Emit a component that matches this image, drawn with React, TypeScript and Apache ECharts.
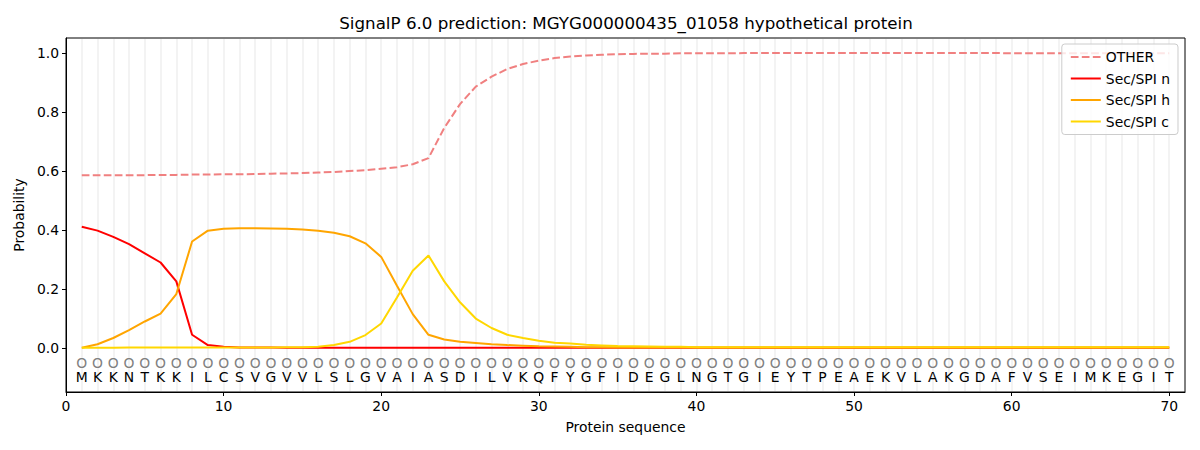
import React, { useEffect, useRef } from "react";
import * as echarts from "echarts";

const titleText = "SignalP 6.0 prediction: MGYG000000435_01058 hypothetical protein";

const sequence = [
  "M","K","K","N","T","K","K","I","L","C",
  "S","V","G","V","V","L","S","L","G","V",
  "A","I","A","S","D","I","L","V","K","Q",
  "F","Y","G","F","I","D","E","G","L","N",
  "G","T","G","I","E","Y","T","P","E","A",
  "E","K","V","L","A","K","G","D","A","F",
  "V","S","E","I","M","K","E","G","I","T",
];

const otherProb = [
  0.585,0.585,0.585,0.585,0.585,0.586,0.586,0.587,0.587,0.588,
  0.588,0.589,0.590,0.591,0.592,0.594,0.596,0.599,0.602,0.607,
  0.612,0.622,0.643,0.745,0.826,0.885,0.919,0.945,0.962,0.973,
  0.982,0.987,0.991,0.993,0.995,0.996,0.997,0.997,0.998,0.998,
  0.998,0.998,0.999,0.999,0.999,0.999,0.999,0.999,0.999,0.999,
  0.999,0.999,0.999,0.999,0.999,0.999,0.999,0.999,0.999,0.998,
  0.998,0.998,0.998,0.998,0.998,0.998,0.998,0.998,0.998,0.998,
];

const secN = [
  0.410,0.397,0.376,0.351,0.320,0.289,0.225,0.044,0.009,0.003,
  0.001,0.001,0.001,0,0,0,0,0,0,0,
  0,0,0,0,0,0,0,0,0,0,
  0,0,0,0,0,0,0,0,0,0,
  0,0,0,0,0,0,0,0,0,0,
  0,0,0,0,0,0,0,0,0,0,
  0,0,0,0,0,0,0,0,0,0,
];

const secH = [
  0.000,0.012,0.033,0.060,0.089,0.116,0.182,0.360,0.397,0.403,
  0.405,0.405,0.404,0.403,0.401,0.397,0.390,0.378,0.354,0.308,
  0.210,0.114,0.044,0.028,0.020,0.016,0.012,0.009,0.007,0.005,
  0.004,0.003,0.002,0.002,0.001,0.001,0.001,0.001,0.001,0.001,
  0.001,0.001,0.001,0.001,0.001,0.001,0.001,0.001,0.001,0.001,
  0.001,0.001,0.001,0.001,0.001,0.001,0.001,0.001,0.001,0.001,
  0.001,0.001,0.001,0.001,0.001,0.001,0.001,0.001,0.001,0.001,
];

const secC = [
  0.000,0.000,0.000,0.001,0.001,0.001,0.001,0.001,0.001,0.001,
  0.001,0.001,0.001,0.002,0.002,0.003,0.009,0.020,0.043,0.082,
  0.170,0.261,0.313,0.225,0.154,0.099,0.067,0.044,0.033,0.024,
  0.017,0.014,0.010,0.008,0.006,0.005,0.004,0.003,0.003,0.002,
  0.002,0.002,0.002,0.002,0.002,0.002,0.002,0.002,0.002,0.002,
  0.002,0.002,0.002,0.002,0.002,0.002,0.002,0.002,0.002,0.002,
  0.002,0.002,0.002,0.002,0.002,0.002,0.002,0.002,0.002,0.002,
];

const xTicks = [0, 10, 20, 30, 40, 50, 60, 70];
const yTicks = [0, 0.2, 0.4, 0.6, 0.8, 1.0];

const FONT = "DejaVu Sans";

export default function App() {
  const ref = useRef<HTMLDivElement>(null);

  useEffect(() => {
    if (!ref.current) return;
    const chart = echarts.init(ref.current, null, { renderer: "svg" });
    const positions = sequence.map((_, i) => i + 1);
    const pair = (arr: number[]) => arr.map((v, i) => [positions[i], v]);

    const textSeries = (name: string, yVal: number, texts: string[], color: string) => ({
      name,
      type: "custom",
      silent: true,
      z: 3,
      data: texts.map((t, i) => [positions[i], yVal, t]),
      renderItem: (params: any, api: any) => {
        const p = api.coord([api.value(0), api.value(1)]);
        return {
          type: "text",
          x: p[0],
          y: p[1],
          style: {
            text: texts[params.dataIndex],
            textAlign: "center",
            textVerticalAlign: "middle",
            fill: color,
            font: `13.9px '${FONT}'`,
          },
        };
      },
    });

    chart.setOption({
      animation: false,
      textStyle: { fontFamily: FONT },
      graphic: [
        {
          type: "text",
          x: 626,
          y: 23,
          style: {
            text: titleText,
            textAlign: "center",
            textVerticalAlign: "middle",
            fill: "#000",
            font: `16.7px '${FONT}'`,
          },
        },
      ],
      grid: {
        left: 66,
        right: 15,
        top: 38,
        bottom: 58,
        show: true,
        borderColor: "#000",
        borderWidth: 1,
        backgroundColor: "transparent",
      },
      legend: {
        orient: "vertical",
        right: 22,
        top: 44,
        data: ["OTHER", "Sec/SPI n", "Sec/SPI h", "Sec/SPI c"],
        itemWidth: 30,
        itemHeight: 12,
        itemGap: 7.5,
        padding: [6, 8, 6, 8],
        backgroundColor: "rgba(255,255,255,0.8)",
        borderColor: "#cccccc",
        borderWidth: 1,
        borderRadius: 3,
        itemStyle: { opacity: 0 },
        textStyle: { fontFamily: FONT, fontSize: 13.9, color: "#000" },
      },
      xAxis: [
        {
          type: "value",
          min: 0,
          max: 71,
          interval: 10,
          name: "Protein sequence",
          nameLocation: "middle",
          nameGap: 28,
          nameTextStyle: { fontFamily: FONT, fontSize: 13.9, color: "#000", verticalAlign: "top" },
          axisLine: { show: true, onZero: false, lineStyle: { color: "#000", width: 1 } },
          axisTick: { show: true, length: 4, customValues: xTicks, lineStyle: { color: "#000" } },
          axisLabel: {
            customValues: xTicks,
            fontFamily: FONT,
            fontSize: 13.9,
            color: "#000",
            margin: 7,
            formatter: (v: number) => String(v),
          },
          splitLine: { show: false },
        },
        {
          type: "value",
          position: "top",
          min: 0,
          max: 71,
          interval: 1,
          axisLine: { show: false },
          axisTick: { show: false },
          axisLabel: { show: false },
          splitLine: { show: true, lineStyle: { color: "rgba(128,128,128,0.13)", width: 1.5 } },
        },
      ],
      yAxis: {
        type: "value",
        min: -0.15,
        max: 1.05,
        name: "Probability",
        nameLocation: "middle",
        nameGap: 37,
        nameTextStyle: { fontFamily: FONT, fontSize: 13.9, color: "#000" },
        axisLine: { show: true, onZero: false, lineStyle: { color: "#000", width: 1 } },
        axisTick: { show: true, length: 4, customValues: yTicks, lineStyle: { color: "#000" } },
        axisLabel: {
          customValues: yTicks,
          fontFamily: FONT,
          fontSize: 13.9,
          color: "#000",
          margin: 7,
          formatter: (v: number) => v.toFixed(1),
        },
        splitLine: { show: false },
      },
      series: [
        {
          name: "OTHER",
          type: "line",
          data: pair(otherProb),
          symbol: "none",
          color: "#F08080",
          lineStyle: { color: "#F08080", width: 2, type: [7.7, 3.3] },
          z: 2,
        },
        {
          name: "Sec/SPI n",
          type: "line",
          data: pair(secN),
          symbol: "none",
          color: "#FF0000",
          lineStyle: { color: "#FF0000", width: 2 },
          z: 2,
        },
        {
          name: "Sec/SPI h",
          type: "line",
          data: pair(secH),
          symbol: "none",
          color: "#FFA500",
          lineStyle: { color: "#FFA500", width: 2 },
          z: 2,
        },
        {
          name: "Sec/SPI c",
          type: "line",
          data: pair(secC),
          symbol: "none",
          color: "#FFD700",
          lineStyle: { color: "#FFD700", width: 2 },
          z: 2,
        },
        textSeries("marks", -0.05, sequence.map(() => "O"), "#808080"),
        textSeries("residues", -0.1, sequence, "#000"),
      ],
    });

    return () => chart.dispose();
  }, []);

  return (
    <div
      ref={ref}
      style={{ position: "fixed", left: 0, top: 0, width: 1200, height: 450, background: "#fff" }}
    />
  );
}
